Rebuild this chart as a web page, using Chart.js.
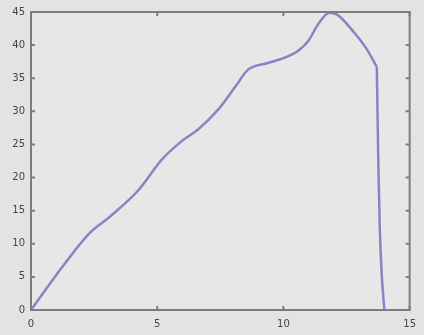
<!DOCTYPE html>
<html>
<head>
<meta charset="utf-8">
<script src="https://cdn.jsdelivr.net/npm/chart.js@4/dist/chart.umd.min.js"></script>
<style>
  html, body { margin: 0; padding: 0; background: #e3e3e3; }
  #wrap { width: 424px; height: 335px; }
</style>
</head>
<body>
<div id="wrap"><canvas id="chart" width="424" height="335"></canvas></div>
<script>
// values: rising part up to the knee, then the drop
const xVals = [0, 1.26, 2.32, 3.1, 4.28, 5.18, 5.97, 6.63, 7.42, 8.09, 8.6, 9.38, 10.05, 10.6, 11.0, 11.35, 11.82, 12.13, 12.8, 13.3, 13.7];
const yVals = [0, 6.6, 11.6, 14.0, 18.2, 22.7, 25.5, 27.3, 30.3, 33.7, 36.3, 37.3, 38.1, 39.2, 40.7, 43.0, 44.9, 44.6, 41.9, 39.4, 36.7];
const dropX = [13.7, 13.76, 13.82, 13.9, 14.0];
const dropY = [36.7, 22.0, 12.0, 5.0, 0];
const xTicks = [0, 5, 10, 15];
const yTicks = [0, 5, 10, 15, 20, 25, 30, 35, 40, 45];

const points = xVals.map((x, i) => ({ x: x, y: yVals[i] }));
const dropPoints = dropX.map((x, i) => ({ x: x, y: dropY[i] }));

// plot background + box with inward ticks
const boxPlugin = {
    id: 'box',
    beforeDraw(chart) {
        const a = chart.chartArea;
        const ctx = chart.ctx;
        ctx.save();
        ctx.fillStyle = '#e7e7e7';
        ctx.fillRect(a.left, a.top, a.right - a.left, a.bottom - a.top);
        ctx.restore();
    },
    afterDraw(chart) {
        const a = chart.chartArea;
        const ctx = chart.ctx;
        const xs = chart.scales.x, ys = chart.scales.y;
        ctx.save();
        ctx.strokeStyle = '#7d7d7d';
        ctx.lineWidth = 2;
        ctx.strokeRect(a.left, a.top, a.right - a.left, a.bottom - a.top);
        ctx.beginPath();
        xTicks.forEach(v => {
            const px = xs.getPixelForValue(v);
            ctx.moveTo(px, a.bottom); ctx.lineTo(px, a.bottom - 4);
            ctx.moveTo(px, a.top); ctx.lineTo(px, a.top + 4);
        });
        yTicks.forEach(v => {
            const py = ys.getPixelForValue(v);
            ctx.moveTo(a.left, py); ctx.lineTo(a.left + 4, py);
            ctx.moveTo(a.right, py); ctx.lineTo(a.right - 4, py);
        });
        ctx.stroke();
        ctx.restore();
    }
};

const lineStyle = {
    borderColor: '#8585c4',
    borderWidth: 2.5,
    pointRadius: 0,
    fill: false,
    cubicInterpolationMode: 'monotone',
    clip: 4
};

new Chart(document.getElementById('chart'), {
    type: 'line',
    data: {
        datasets: [
            { ...lineStyle, data: points },
            { ...lineStyle, data: dropPoints }
        ]
    },
    options: {
        responsive: false,
        animation: false,
        layout: { padding: { left: 0, right: 11, top: 12, bottom: 0 } },
        plugins: { legend: { display: false }, tooltip: { enabled: false } },
        scales: {
            x: {
                type: 'linear',
                min: 0, max: 15,
                afterFit: s => { s.height = 25; },
                afterBuildTicks: s => { s.ticks = xTicks.map(v => ({ value: v })); },
                grid: { display: false, drawTicks: false },
                border: { display: false },
                ticks: { padding: 8, color: '#444', font: { family: 'DejaVu Sans', size: 10 } }
            },
            y: {
                min: 0, max: 45,
                afterFit: s => { s.width = 31; },
                afterBuildTicks: s => { s.ticks = yTicks.map(v => ({ value: v })); },
                grid: { display: false, drawTicks: false },
                border: { display: false },
                ticks: { padding: 6, color: '#444', font: { family: 'DejaVu Sans', size: 10 } }
            }
        }
    },
    plugins: [boxPlugin]
});
</script>
</body>
</html>
